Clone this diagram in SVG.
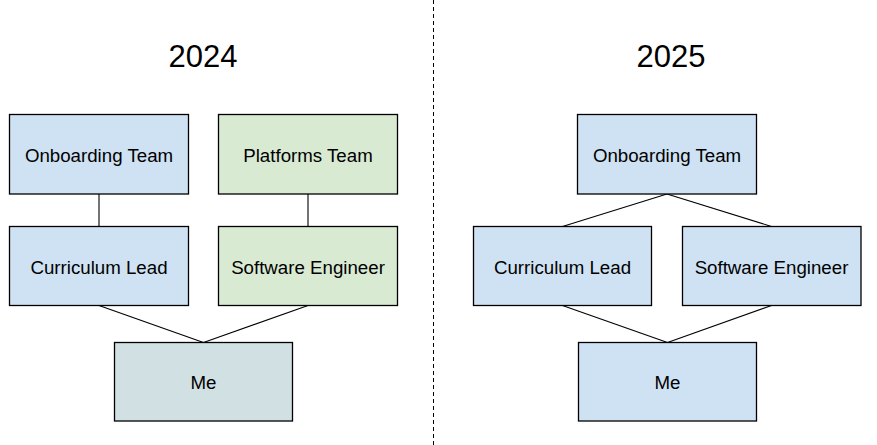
<svg xmlns="http://www.w3.org/2000/svg" width="877" height="445" viewBox="0 0 877 445">
<style>
.box{stroke:#000;stroke-width:1.3}
.blue{fill:#cfe2f3}
.green{fill:#d9ead3}
.gray{fill:#d0e0e3}
text{font-family:"Liberation Sans",Arial,sans-serif;fill:#000;text-anchor:middle}
.lbl{font-size:18.7px}
.title{font-size:31px}
.conn line{stroke:#000;stroke-width:1.1}
</style>
<rect width="877" height="445" fill="#fff"/>
<line x1="433.5" y1="0" x2="433.5" y2="445" stroke="#000" stroke-width="1" stroke-dasharray="4,3"/>
<text class="title" x="203" y="67">2024</text>
<text class="title" x="671" y="67">2025</text>
<g id="connectors" class="conn">
<line x1="99" y1="194" x2="99" y2="226.5"/>
<line x1="308" y1="194" x2="308" y2="226.5"/>
<line x1="99" y1="305.5" x2="203.5" y2="342.5"/>
<line x1="308" y1="305.5" x2="203.5" y2="342.5"/>
<line x1="667" y1="194" x2="562.5" y2="226.5"/>
<line x1="667" y1="194" x2="771.5" y2="226.5"/>
<line x1="562.5" y1="305.5" x2="667.5" y2="342.5"/>
<line x1="771.5" y1="305.5" x2="667.5" y2="342.5"/>
</g>
<g id="onboarding-2024"><rect class="box blue" x="9.5" y="114.5" width="179" height="79.5"/><text class="lbl" x="99" y="162">Onboarding Team</text></g>
<g id="platforms-2024"><rect class="box green" x="218.5" y="114.5" width="179" height="79.5"/><text class="lbl" x="308" y="162">Platforms Team</text></g>
<g id="curriculum-2024"><rect class="box blue" x="9.5" y="226.5" width="179" height="79"/><text class="lbl" x="99" y="273.5">Curriculum Lead</text></g>
<g id="engineer-2024"><rect class="box green" x="218.5" y="226.5" width="179" height="79"/><text class="lbl" x="308" y="273.5">Software Engineer</text></g>
<g id="me-2024"><rect class="box gray" x="114.5" y="342.5" width="178" height="78.5"/><text class="lbl" x="203.5" y="389">Me</text></g>
<g id="onboarding-2025"><rect class="box blue" x="577.5" y="114.5" width="179" height="79.5"/><text class="lbl" x="667" y="162">Onboarding Team</text></g>
<g id="curriculum-2025"><rect class="box blue" x="473.5" y="226.5" width="178" height="79"/><text class="lbl" x="562.5" y="273.5">Curriculum Lead</text></g>
<g id="engineer-2025"><rect class="box blue" x="682.5" y="226.5" width="178.5" height="79"/><text class="lbl" x="771.5" y="273.5">Software Engineer</text></g>
<g id="me-2025"><rect class="box blue" x="578.5" y="342.5" width="178" height="78.5"/><text class="lbl" x="667.5" y="389">Me</text></g>
</svg>
